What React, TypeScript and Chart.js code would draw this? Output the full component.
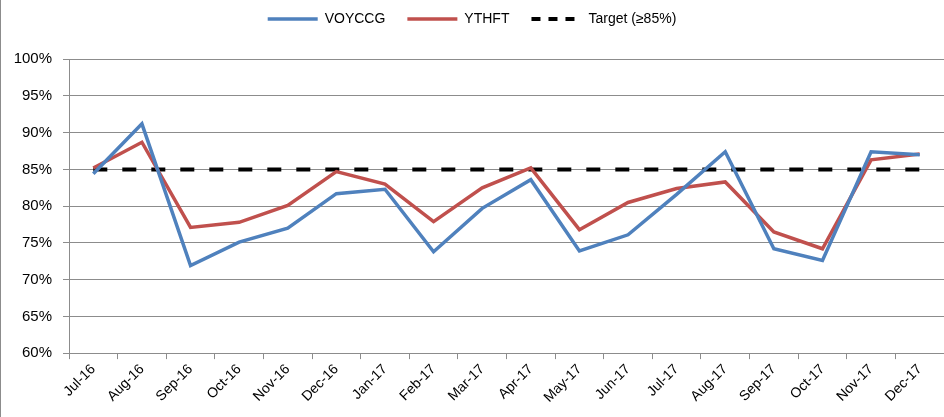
import React, { useEffect, useRef } from "react";
import { Chart, registerables } from "chart.js";

Chart.register(...registerables);

const categories = [
  "Jul-16", "Aug-16", "Sep-16", "Oct-16", "Nov-16", "Dec-16",
  "Jan-17", "Feb-17", "Mar-17", "Apr-17", "May-17", "Jun-17",
  "Jul-17", "Aug-17", "Sep-17", "Oct-17", "Nov-17", "Dec-17",
];
const voyccg = [84.4, 91.2, 71.9, 75.1, 77.0, 81.7, 82.3, 73.8, 79.7, 83.6, 73.9, 76.1, 81.6, 87.4, 74.2, 72.6, 87.4, 87.0];
const ythft = [85.2, 88.7, 77.1, 77.8, 80.1, 84.7, 83.0, 77.9, 82.5, 85.2, 76.8, 80.5, 82.4, 83.3, 76.5, 74.2, 86.3, 87.1];
const target = [85, 85, 85, 85, 85, 85, 85, 85, 85, 85, 85, 85, 85, 85, 85, 85, 85, 85];
const yTicks = [60, 65, 70, 75, 80, 85, 90, 95, 100];

const FONT = "'Liberation Sans', Arial, sans-serif";

export default function App() {
  const ref = useRef<HTMLCanvasElement | null>(null);
  useEffect(() => {
    document.body.style.margin = "0";
    const canvas = ref.current;
    if (!canvas) return;
    const borderPlugin = {
      id: "outerBorder",
      beforeDraw(chart: any) {
        const ctx = chart.ctx;
        ctx.save();
        ctx.fillStyle = "#ffffff";
        ctx.fillRect(0, 0, chart.width, chart.height);
        ctx.strokeStyle = "#8c8c8c";
        ctx.lineWidth = 1;
        ctx.beginPath();
        ctx.moveTo(0.5, 0);
        ctx.lineTo(0.5, chart.height);
        ctx.stroke();
        ctx.restore();
      },
    };
    const chart = new Chart(canvas, {
      type: "line",
      data: {
        labels: categories,
        datasets: [
          {
            label: "VOYCCG",
            data: voyccg,
            borderColor: "#4F81BD",
            backgroundColor: "#4F81BD",
            borderWidth: 3.5,
            pointRadius: 0,
            tension: 0,
          },
          {
            label: "YTHFT",
            data: ythft,
            borderColor: "#C0504D",
            backgroundColor: "#C0504D",
            borderWidth: 3.5,
            pointRadius: 0,
            tension: 0,
          },
          {
            label: "Target (≥85%)",
            data: target,
            borderColor: "#000000",
            backgroundColor: "#000000",
            borderWidth: 4,
            borderDash: [14, 15],
            pointRadius: 0,
            tension: 0,
          },
        ],
      },
      options: {
        animation: false,
        responsive: false,
        maintainAspectRatio: false,
        layout: { padding: { top: -10, left: 0, right: 0, bottom: 9 } },
        plugins: {
          tooltip: { enabled: false },
          title: {
            display: true,
            text: "",
            font: { size: 1 },
            padding: { top: 0, bottom: 22 },
          },
          legend: {
            position: "top",
            weight: 3000,
            labels: {
              usePointStyle: true,
              pointStyleWidth: 50,
              boxHeight: 4,
              padding: 22,
              color: "#000000",
              font: { family: FONT, size: 14 },
              generateLabels(chart: any) {
                return chart.data.datasets.map((ds: any, i: number) => ({
                  text: ds.label,
                  datasetIndex: i,
                  fillStyle: ds.borderColor,
                  strokeStyle: ds.borderColor,
                  lineWidth: i === 2 ? 4 : 3.5,
                  lineDash: i === 2 ? [9, 8] : [],
                  pointStyle: "line",
                  hidden: false,
                  fontColor: "#000000",
                }));
              },
            },
          },
        },
        scales: {
          x: {
            offset: true,
            grid: {
              offset: true,
              drawOnChartArea: false,
              drawTicks: true,
              tickLength: 6,
              color: "#8c8c8c",
            },
            border: { color: "#8c8c8c", width: 1 },
            ticks: {
              maxRotation: 45,
              minRotation: 45,
              autoSkip: false,
              padding: 2,
              color: "#000000",
              font: { family: FONT, size: 14 },
            },
          },
          y: {
            min: 60,
            max: 100,
            afterBuildTicks(axis: any) {
              axis.ticks = yTicks.map((v) => ({ value: v }));
            },
            afterFit(axis: any) {
              axis.width = 69;
            },
            grid: { color: "#8c8c8c", tickLength: 6, drawTicks: true },
            border: { color: "#8c8c8c", width: 1 },
            ticks: {
              stepSize: 5,
              padding: 11,
              color: "#000000",
              font: { family: FONT, size: 15 },
              callback: (v: any) => v + "%",
            },
          },
        },
      },
      plugins: [borderPlugin],
    });
    return () => chart.destroy();
  }, []);
  return (
    <div style={{ width: 944, height: 417 }}>
      <canvas ref={ref} width={944} height={417} style={{ display: "block" }} />
    </div>
  );
}
